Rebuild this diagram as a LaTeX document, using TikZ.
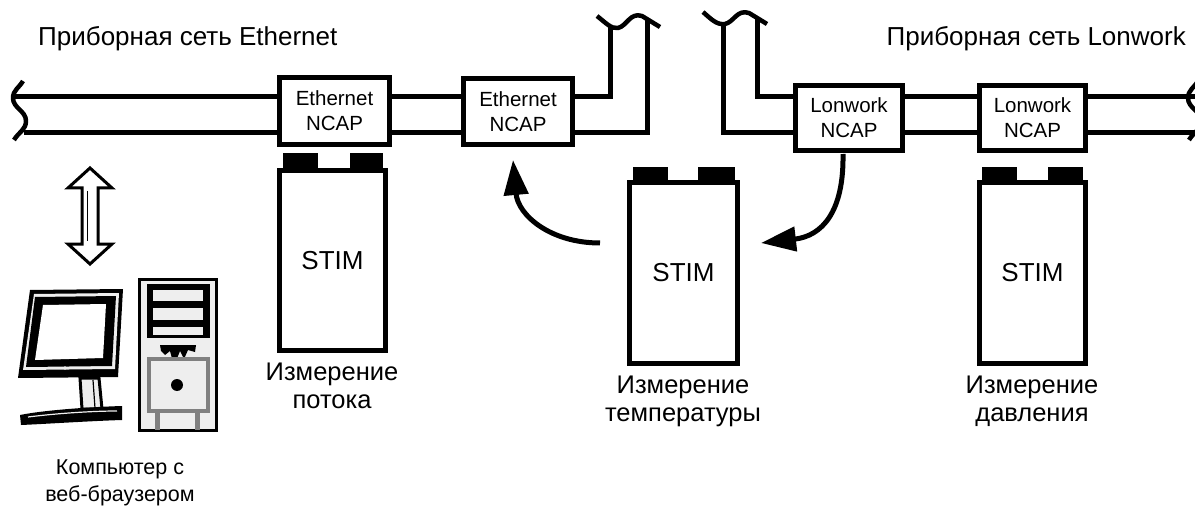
\documentclass[tikz,border=0pt]{standalone}
\usepackage{fontspec}
\setmainfont{Liberation Sans}
\usetikzlibrary{arrows.meta}
\definecolor{casegray}{HTML}{EEEEEE}
\definecolor{panelgray}{HTML}{808080}
\begin{document}
\begin{tikzpicture}[x=1pt,y=-1pt,
  wire/.style={line width=5pt},
  wave/.style={line width=4.5pt, line join=round},
  ncap/.style={draw, line width=5pt, fill=white, inner sep=0pt, align=center,
    font=\fontsize{20.5}{25}\selectfont},
  stimbox/.style={draw, line width=5pt, fill=white, inner sep=0pt,
    font=\fontsize{26}{30}\selectfont},
  pin/.style={fill=black},
  caption/.style={align=center, inner sep=0pt, font=\fontsize{25.5}{28}\selectfont},
  pccaption/.style={align=center, inner sep=0pt, font=\fontsize{21.5}{27}\selectfont},
  heading/.style={inner sep=0pt, font=\fontsize{26}{28}\selectfont},
  flow/.style={line width=5pt, -{Triangle[length=35pt,width=24pt]}},
  hollow/.style={draw, fill=white, line width=3pt, line join=miter}
]
\clip (0,0) rectangle (1195,508);

% --- headings ---
\node[heading, anchor=base west] (hl) at (38,46) {Приборная сеть Ethernet};
\node[heading, anchor=base east] (hr) at (1186,46) {Приборная сеть Lonwork};

% --- NCAP boxes ---
\node[ncap, minimum width=110pt, minimum height=67pt] (e1) at (334.5,111) {Ethernet\\NCAP};
\node[ncap, minimum width=109pt, minimum height=66pt] (e2) at (518,111.5) {Ethernet\\NCAP};
\node[ncap, minimum width=107pt, minimum height=65pt] (l1) at (849,118) {Lonwork\\NCAP};
\node[ncap, minimum width=106pt, minimum height=65pt] (l2) at (1032.5,118) {Lonwork\\NCAP};

% --- bus wire levels and free ends ---
\coordinate (up) at (0,96.5);
\coordinate (dn) at (0,132.5);
\coordinate (wl1) at (15,96.5);
\coordinate (wl2) at (24,132.5);
\coordinate (et1) at (610,26);
\coordinate (et2) at (647,18);
\coordinate (lt1) at (723,24);
\coordinate (lt2) at (757,17);
\coordinate (wr1) at (1200,96.5);
\coordinate (wr2) at (1200,132.5);

% Ethernet bus
\draw[wire] (wl1) -- (e1.west |- up);
\draw[wire] (wl2) -- (e1.west |- dn);
\draw[wire] (e1.east |- up) -- (e2.west |- up);
\draw[wire] (e1.east |- dn) -- (e2.west |- dn);
\draw[wire] (e2.east |- up) -| (et1);
\draw[wire] (e2.east |- dn) -| (et2);

% Lonwork bus
\draw[wire] (l1.west |- dn) -| (lt1);
\draw[wire] (l1.west |- up) -| (lt2);
\draw[wire] (l1.east |- up) -- (l2.west |- up);
\draw[wire] (l1.east |- dn) -- (l2.west |- dn);
\draw[wire] (l2.east |- up) -- (wr1);
\draw[wire] (l2.east |- dn) -- (wr2);

% cable break marks
\draw[wave] (23,81) to[out=-120,in=90] (13,98) to[out=-90,in=90] (26,121) to[out=-90,in=60] (14,140);
\draw[wave, shift={(1175,0)}] (23,81) to[out=-120,in=90] (13,98) to[out=-90,in=90] (26,121) to[out=-90,in=60] (14,140);
\draw[wave] (597,16) .. controls (606,23) and (611,29) .. (618,28)
  .. controls (627,26) and (630,12) .. (642,16) -- (660,27);
\draw[wave] (703,12) .. controls (712,20) and (717,25) .. (725,24)
  .. controls (734,22) and (737,9) .. (749,13) -- (767,24);

% --- STIM modules ---
\node[stimbox, minimum width=106pt, minimum height=180pt] (s1) at (332.5,260.5) {STIM};
\node[stimbox, minimum width=108pt, minimum height=181pt] (s2) at (683.5,273) {STIM};
\node[stimbox, minimum width=106pt, minimum height=181pt] (s3) at (1032.5,273) {STIM};

\fill[pin] (283,153) rectangle (318,170);
\fill[pin] (350,153) rectangle (383,170);
\fill[pin] (633,167) rectangle (668,182);
\fill[pin] (698,167) rectangle (735,182);
\fill[pin] (982,167) rectangle (1017,182);
\fill[pin] (1048,167) rectangle (1083,182);

% captions (anchor base = baseline of the last line)
\node[caption, anchor=base] (c1) at (332,408) {Измерение\\потока};
\node[caption, anchor=base] (c2) at (683,421) {Измерение\\температуры};
\node[caption, anchor=base] (c3) at (1032,421) {Измерение\\давления};

% --- data flow arrows ---
\coordinate (a1s) at ([xshift=-27pt, yshift=30pt]s2.west);
\coordinate (a1e) at ([xshift=-5pt, yshift=-13pt]e2.south);
\draw[flow] (a1s) .. controls (550,243) and (518,215) .. (a1e);
\coordinate (a2s) at ([xshift=-6pt, yshift=-1pt]l1.south);
\coordinate (a2e) at ([xshift=21pt, yshift=30pt]s2.east);
\draw[flow] (a2s) .. controls (844,212) and (822,236) .. (a2e);

% --- two-way link to the computer ---
\path[hollow] (90,168) -- (112,188) -- (98,188) -- (98,244) -- (112,244) -- (90,264)
  -- (68,244) -- (82,244) -- (82,188) -- (68,188) -- cycle;
\draw[line width=1pt] (87,191) -- (87,241);

% --- computer: monitor ---
\fill[black] (30,290) -- (123,289) -- (118,377) -- (18,378) -- cycle;
\fill[casegray] (34,294) -- (119,293) -- (115,369) -- (23,370) -- cycle;
\fill[black] (35,297) -- (116,296) -- (112,366) -- (26,367) -- cycle;
\fill[white] (43,305) -- (106,304) -- (103,358) -- (35,360) -- cycle;
\fill[casegray] (65,368) circle (1.8);
\filldraw[fill=casegray, line width=3pt] (80,378) -- (99,378) -- (102,409) -- (82,409) -- cycle;
\draw[line width=1.2pt] (93,380) -- (95,408);
\fill[black] (20,415) .. controls (45,410) and (90,407) .. (122,406) -- (122,420)
  .. controls (90,421) and (45,424) .. (21,425) -- cycle;
\draw[casegray, line width=1.2pt] (28,417) .. controls (60,413) and (95,411) .. (117,411);

% --- computer: tower ---
\filldraw[fill=casegray, line width=3pt] (139.5,279.5) rectangle (216.5,430.5);
\fill[black] (147,284) rectangle (210,338);
\fill[casegray] (153,290) rectangle (203,301);
\fill[casegray] (153,308) rectangle (203,320);
\fill[casegray] (153,327) rectangle (203,335);
\fill[black] (160,345) -- (196,345) -- (195,352) -- (188,350) -- (184,359) -- (180,351)
  -- (174,366) -- (170,351) -- (165,355) -- (161,351) -- cycle;
\filldraw[draw=panelgray, fill=casegray, line width=4pt] (149,359) rectangle (208,411);
\fill[black] (177,385) circle (6);
\fill[panelgray] (155,411) rectangle (160,430);
\fill[panelgray] (195,411) rectangle (200,430);

\node[pccaption, anchor=base] (pc) at (120,501) {Компьютер с\\веб-браузером};
\end{tikzpicture}
\end{document}
